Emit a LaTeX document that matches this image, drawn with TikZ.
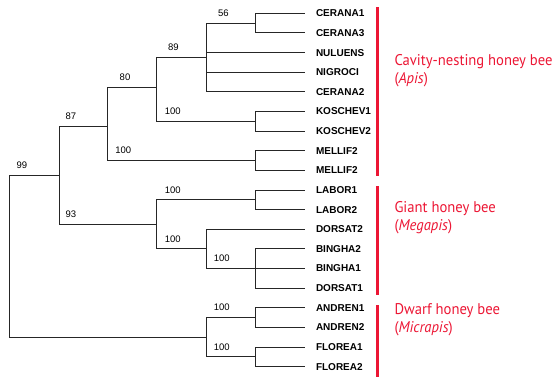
\documentclass[tikz,border=0pt]{standalone}
\usepackage{fontspec}
\setmainfont{Liberation Sans}
\newfontfamily\cladefont[FakeStretch=0.945]{PT Sans}
\definecolor{beered}{RGB}{236,22,52}
\tikzset{
  branch/.style={line width=0.9pt, black!85},
  leaf/.style={anchor=west, inner sep=0pt, outer xsep=11pt, font=\fontsize{10}{12}\selectfont\bfseries},
  boot/.style={inner sep=0pt, font=\fontsize{9.5}{11}\selectfont},
  bar/.style={line width=3pt, beered},
  clade/.style={anchor=base west, inner sep=0pt, align=left, text=beered, font=\cladefont\fontsize{15.5}{17.6}\selectfont},
}

\begin{document}
\begin{tikzpicture}[x=1pt, y=-1pt]
        \useasboundingbox (0,0) rectangle (559,383);

        % leaves
        \foreach \name [count=\i from 0] in {CERANA1,CERANA3,NULUENS,NIGROCI,CERANA2,KOSCHEV1,KOSCHEV2,MELLIF2,MELLIF2,LABOR1,LABOR2,DORSAT2,BINGHA2,BINGHA1,DORSAT1,ANDREN1,ANDREN2,FLOREA1,FLOREA2}
          \node[leaf] (l\i) at (305,{13.3+19.63*\i}) {\name};

        % inner nodes
        \coordinate (cer) at (255,23.1);
        \coordinate (c89) at (206.7,57.4);
        \coordinate (kos) at (255,121.3);
        \coordinate (c80) at (156.7,87.3);
        \coordinate (mel) at (255,160.5);
        \coordinate (c87) at (107.7,126.7);
        \coordinate (lab) at (255,199.8);
        \coordinate (bin) at (255,268.5);
        \coordinate (dor) at (206.7,248.9);
        \coordinate (giant) at (156.7,224.3);
        \coordinate (big) at (59,175.7);
        \coordinate (and) at (255,317.6);
        \coordinate (flo) at (255,356.8);
        \coordinate (dwarf) at (206.7,337.2);
        \coordinate (root) at (9.3,256.5);

        % branches
        \foreach \p/\c in {cer/l0.west,cer/l1.west,c89/cer,c89/l2.west,c89/l3.west,c89/l4.west,
            kos/l5.west,kos/l6.west,c80/c89,c80/kos,mel/l7.west,mel/l8.west,c87/c80,c87/mel,
            lab/l9.west,lab/l10.west,bin/l12.west,bin/l13.west,bin/l14.west,dor/l11.west,dor/bin,
            giant/lab,giant/dor,big/c87,big/giant,and/l15.west,and/l16.west,flo/l17.west,flo/l18.west,
            dwarf/and,dwarf/flo,root/big,root/dwarf}
          \draw[branch] (\p) |- (\c);

        % bootstrap values
        \foreach \x/\y/\t [count=\k] in {22/165.5/99,71/116.5/87,125/77.3/80,173.3/47.3/89,223.3/13.3/56,
            172.7/111.3/100,123.3/150.5/100,71/214.3/93,172.7/189.8/100,172.7/238.9/100,
            221.7/258.5/100,221.7/307.6/100,221.7/346.8/100}
          \node[boot] (b\k) at (\x,\y) {\t};

        % clade bars
        \draw[bar] (377.3,7.3) -- (377.3,175.7);
        \draw[bar] (377.3,186) -- (377.3,295);
        \draw[bar] (377.3,305) -- (377.3,376.7);

        % clade names
        \node[clade] (apis) at (394.3,83.3) {Cavity-nesting honey bee\\(\textit{Apis})};
        \node[clade] (megapis) at (394.3,230.3) {Giant honey bee\\(\textit{Megapis})};
        \node[clade] (micrapis) at (394.3,332.3) {Dwarf honey bee\\(\textit{Micrapis})};
\end{tikzpicture}
\end{document}
